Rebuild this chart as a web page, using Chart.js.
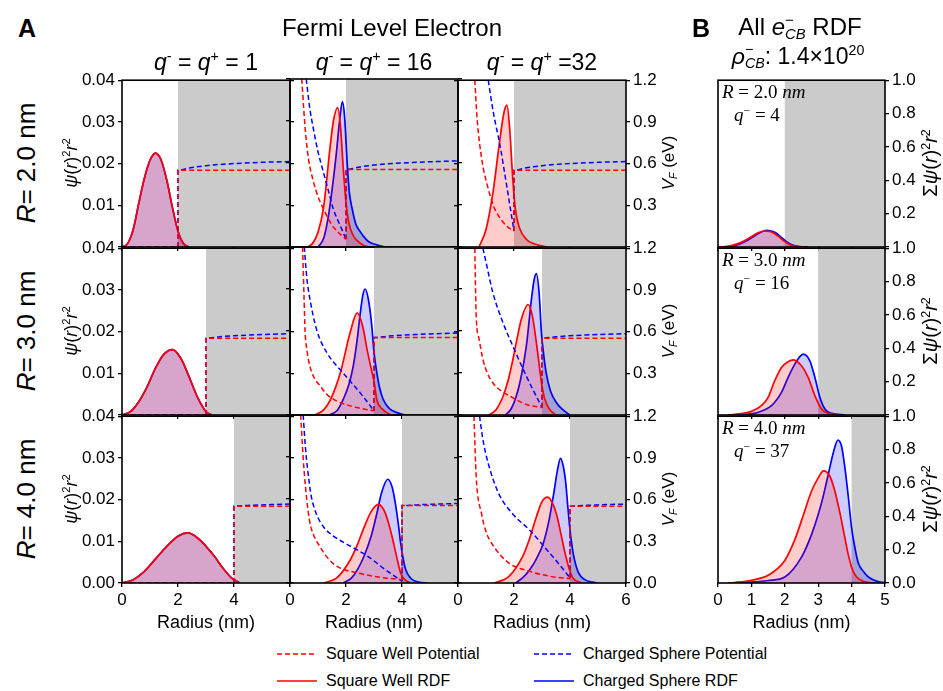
<!DOCTYPE html>
<html><head><meta charset="utf-8">
<script src="https://cdn.jsdelivr.net/npm/chart.js@4.4.1/dist/chart.umd.min.js"></script>
<style>
html,body{margin:0;padding:0;background:#fff;}
#fig{position:relative;width:943px;height:691px;overflow:hidden;background:#fff;font-family:'Liberation Sans',Arial,sans-serif;color:#000;}
#fig canvas{position:absolute;}
.t{position:absolute;white-space:nowrap;transform:translate(-50%,-50%);line-height:1;}
.tl{position:absolute;white-space:nowrap;transform:translateY(-50%);line-height:1;}
.rot{transform:translate(-50%,-50%) rotate(-90deg);}
sup,sub{font-size:0.62em;line-height:0;position:relative;vertical-align:baseline;}
sup{top:-0.6em;} sub{top:0.3em;}
.ss{display:inline-block;vertical-align:-0.3em;font-size:0.62em;line-height:0.95;text-align:left;}
.serif{font-family:'Liberation Serif','DejaVu Serif',serif;font-style:italic;}
</style></head>
<body><div id="fig"></div>
<script>
// ---------------- data: Panel A ----------------
const radiusR = [2, 3, 4];
const qTitles = ['1', '16', '32'];
// R = 2 nm
const R2_q1_rdf_r = [0,0.2,0.4,0.6,0.8,1.0,1.2,1.4,1.6,1.8,2.0,2.2,2.4];
const R2_q1_rdf   = [0,0.0008,0.0042,0.0105,0.0165,0.0208,0.0225,0.0208,0.016,0.0095,0.0038,0.0008,0];
const R2_q1_pot_r = [0,2];
const R2_q1_pot   = [0,0];
const R2_q16_swRdf_r = [0.6,0.8,1.0,1.2,1.44,1.55,1.7,1.8,1.9,2.0,2.1,2.25,2.4,2.6,2.8];
const R2_q16_swRdf   = [0,0.0008,0.0035,0.0095,0.0243,0.030,0.0332,0.029,0.019,0.0105,0.0058,0.0028,0.0015,0.0005,0];
const R2_q16_csRdf_r = [1.0,1.2,1.35,1.5,1.65,1.77,1.87,1.95,2.04,2.12,2.22,2.35,2.52,2.8,3.1,3.4];
const R2_q16_csRdf   = [0,0.002,0.0065,0.0135,0.022,0.030,0.0346,0.031,0.0203,0.013,0.0091,0.0055,0.0035,0.0013,0.0005,0];
const R2_q16_swPot_r = [0.42,0.54,0.66,0.84,1.0,1.2,1.4,1.56,1.8,2.0];
const R2_q16_swPot   = [1.2,0.85,0.63,0.465,0.36,0.27,0.19,0.14,0.09,0.055];
const R2_q16_csPot_r = [0.58,0.7,0.83,1.0,1.19,1.4,1.55,1.8,2.0];
const R2_q16_csPot   = [1.2,1.0,0.85,0.68,0.537,0.38,0.27,0.15,0.055];
const R2_q32_swRdf_r = [0.75,1.0,1.25,1.5,1.65,1.75,1.85,1.95,2.05,2.2,2.45,2.9,3.2];
const R2_q32_swRdf   = [0,0.0042,0.0131,0.026,0.0325,0.034,0.028,0.017,0.009,0.0045,0.0018,0.0004,0];
const R2_q32_swPot_r = [0.6,0.68,0.78,0.9,1.02,1.26,1.4,1.62,1.8,2.0];
const R2_q32_swPot   = [1.2,0.93,0.73,0.57,0.465,0.30,0.24,0.176,0.14,0.116];
const R2_q32_csPot_r = [1.08,1.26,1.5,1.74,1.9,2.0];
const R2_q32_csPot   = [1.2,0.97,0.73,0.44,0.24,0.116];
const R2_swOut_r = [2,6];
const R2_swOut   = [0.553,0.553];
const R2_csOut_r = [2,2.5,3,3.5,4,5,6];
const R2_csOut   = [0.553,0.572,0.585,0.594,0.600,0.609,0.615];
// R = 3 nm
const R3_q1_rdf_r = [0,0.3,0.6,0.9,1.2,1.5,1.8,2.1,2.4,2.7,3.0,3.2];
const R3_q1_rdf   = [0,0.0008,0.0032,0.0068,0.0113,0.0146,0.0157,0.0136,0.0091,0.0042,0.0008,0];
const R3_q1_pot_r = [0,3];
const R3_q1_pot   = [0,0];
const R3_q16_swRdf_r = [0.9,1.2,1.45,1.8,2.15,2.4,2.6,2.75,2.9,3.0,3.1,3.3,3.6];
const R3_q16_swRdf   = [0,0.0012,0.0037,0.0101,0.0197,0.0243,0.021,0.0157,0.011,0.008,0.0037,0.0014,0];
const R3_q16_csRdf_r = [1.4,1.7,1.9,2.1,2.26,2.4,2.5,2.6,2.68,2.8,2.92,3.0,3.1,3.2,3.33,3.55,3.85,4.1];
const R3_q16_csRdf   = [0,0.0012,0.0037,0.0072,0.0117,0.018,0.0237,0.0285,0.030,0.0275,0.0213,0.015,0.0101,0.0065,0.0037,0.0015,0.0005,0];
const R3_q16_swPot_r = [0.45,0.5,0.54,0.6,0.71,0.85,1.07,1.3,1.67,2.0,2.38,3.0];
const R3_q16_swPot   = [1.2,0.85,0.59,0.47,0.35,0.27,0.21,0.15,0.10,0.075,0.053,0.03];
const R3_q16_csPot_r = [0.51,0.6,0.71,0.95,1.31,1.9,2.5,3.0];
const R3_q16_csPot   = [1.2,0.98,0.83,0.61,0.447,0.30,0.16,0.03];
const R3_q32_swRdf_r = [1.1,1.35,1.61,1.8,1.96,2.1,2.26,2.5,2.65,2.8,2.9,3.0,3.1,3.27,3.5];
const R3_q32_swRdf   = [0,0.0012,0.0045,0.0085,0.0133,0.018,0.0229,0.0265,0.024,0.0173,0.012,0.0069,0.0038,0.0014,0];
const R3_q32_csRdf_r = [1.7,1.9,2.08,2.25,2.44,2.62,2.72,2.8,2.9,2.98,3.06,3.15,3.3,3.51,3.75,4.0];
const R3_q32_csRdf   = [0,0.0015,0.0045,0.009,0.0165,0.0276,0.0325,0.0339,0.029,0.0197,0.0145,0.0101,0.0058,0.003,0.0012,0];
const R3_q32_swPot_r = [0.6,0.65,0.75,0.89,1.05,1.25,1.5,1.85,2.44,3.0];
const R3_q32_swPot   = [1.2,0.71,0.55,0.40,0.30,0.23,0.18,0.136,0.076,0.053];
const R3_q32_csPot_r = [0.89,1.0,1.25,1.61,1.96,2.44,3.0];
const R3_q32_csPot   = [1.2,1.1,0.877,0.662,0.495,0.28,0.053];
const R3_swOut_r = [3,6];
const R3_swOut   = [0.553,0.553];
const R3_csOut_r = [3,3.5,4,4.5,5,6];
const R3_csOut   = [0.553,0.563,0.570,0.575,0.579,0.585];
// R = 4 nm
const R4_q1_rdf_r = [0,0.4,0.8,1.2,1.6,2.0,2.35,2.7,3.0,3.3,3.6,3.9,4.2];
const R4_q1_rdf   = [0,0.0008,0.0028,0.0058,0.0088,0.0112,0.012,0.0108,0.0088,0.0064,0.0036,0.0013,0];
const R4_q1_pot_r = [0,4];
const R4_q1_pot   = [0,0];
const R4_q16_swRdf_r = [1.2,1.67,2.16,2.4,2.66,2.9,3.15,3.4,3.64,3.8,3.95,4.1,4.3];
const R4_q16_swRdf   = [0,0.0012,0.0056,0.009,0.0135,0.017,0.0187,0.0167,0.0112,0.0065,0.0024,0.0008,0];
const R4_q16_csRdf_r = [1.9,2.2,2.41,2.65,2.9,3.1,3.27,3.49,3.65,3.76,3.87,3.95,4.05,4.13,4.3,4.6,4.9];
const R4_q16_csRdf   = [0,0.0012,0.0032,0.0065,0.0112,0.0165,0.0215,0.0247,0.0228,0.0191,0.014,0.0096,0.0055,0.0032,0.0012,0.0002,0];
const R4_q16_swPot_r = [0.38,0.5,0.69,0.85,1.06,1.3,1.67,2.41,3.4,4.0];
const R4_q16_swPot   = [1.2,0.81,0.454,0.34,0.263,0.19,0.12,0.072,0.036,0.024];
const R4_q16_csPot_r = [0.47,0.55,0.63,0.75,0.93,1.2,1.55,2.16,2.78,3.4,4.0];
const R4_q16_csPot   = [1.2,0.97,0.81,0.63,0.50,0.40,0.335,0.263,0.19,0.096,0.012];
const R4_q32_swRdf_r = [1.3,1.82,2.31,2.55,2.8,3.0,3.2,3.4,3.54,3.7,3.85,4.0,4.1,4.4];
const R4_q32_swRdf   = [0,0.0016,0.0064,0.0105,0.0159,0.0195,0.0206,0.0188,0.0159,0.011,0.0064,0.0028,0.0012,0];
const R4_q32_csRdf_r = [2.05,2.3,2.56,2.8,3.05,3.25,3.42,3.55,3.66,3.76,3.85,3.92,4.0,4.08,4.16,4.3,4.53,4.8,5.0];
const R4_q32_csRdf   = [0,0.0012,0.0032,0.0058,0.0096,0.015,0.0215,0.027,0.0299,0.028,0.0239,0.0185,0.0127,0.0085,0.0056,0.0025,0.0008,0.0002,0];
const R4_q32_swPot_r = [0.57,0.65,0.84,1.0,1.2,1.82,2.56,3.3,4.0];
const R4_q32_swPot   = [1.2,0.765,0.50,0.37,0.287,0.143,0.084,0.048,0.031];
const R4_q32_csPot_r = [0.77,0.9,1.08,1.45,1.94,2.56,3.17,3.67,4.0];
const R4_q32_csPot   = [1.2,1.02,0.86,0.645,0.50,0.38,0.24,0.12,0.036];
const R4_swOut_r = [4,6];
const R4_swOut   = [0.553,0.553];
const R4_csOut_r = [4,4.5,5,5.5,6];
const R4_csOut   = [0.553,0.558,0.562,0.565,0.568];

// ---------------- data: Panel B ----------------
const qB = ['4', '16', '37'];
const B_R2_sw_r = [0,0.3,0.6,0.9,1.2,1.4,1.6,1.8,2.0,2.2,2.4,2.6];
const B_R2_sw   = [0,0.004,0.02,0.05,0.085,0.096,0.09,0.065,0.032,0.01,0.002,0];
const B_R2_cs_r = [0,0.3,0.6,0.9,1.2,1.45,1.7,1.9,2.1,2.3,2.5,2.7];
const B_R2_cs   = [0,0.002,0.014,0.042,0.08,0.1,0.088,0.058,0.025,0.007,0.001,0];
const B_R3_sw_r = [0.3,0.5,1.0,1.3,1.5,1.7,1.9,2.1,2.26,2.5,2.7,2.9,3.1,3.3,3.6];
const B_R3_sw   = [0,0.004,0.022,0.056,0.106,0.206,0.285,0.32,0.331,0.295,0.226,0.116,0.036,0.01,0];
const B_R3_cs_r = [0.4,0.7,1.2,1.6,1.9,2.1,2.3,2.45,2.55,2.75,2.9,3.05,3.2,3.4,3.8];
const B_R3_cs   = [0,0.002,0.016,0.056,0.136,0.226,0.305,0.35,0.365,0.325,0.226,0.106,0.036,0.01,0];
const B_R4_sw_r = [0.3,0.5,1.0,1.5,2.0,2.3,2.5,2.8,3.0,3.16,3.35,3.5,3.65,3.8,3.9,4.0,4.1,4.2,4.4,4.7];
const B_R4_sw   = [0,0.003,0.016,0.046,0.135,0.26,0.374,0.55,0.63,0.672,0.64,0.55,0.42,0.27,0.17,0.095,0.05,0.026,0.007,0];
const B_R4_cs_r = [0.3,0.5,1.0,1.5,2.0,2.5,2.8,3.0,3.15,3.3,3.45,3.59,3.7,3.8,3.9,4.0,4.1,4.2,4.35,4.5,4.8,5.0];
const B_R4_cs   = [0,0.001,0.005,0.015,0.036,0.155,0.29,0.41,0.52,0.65,0.78,0.857,0.82,0.69,0.52,0.33,0.21,0.12,0.07,0.036,0.008,0.002];

// ---------------- assembly ----------------
const panelsA = [
  [
    {sw:[R2_q1_rdf_r,R2_q1_rdf], cs:[R2_q1_rdf_r,R2_q1_rdf], swP:[R2_q1_pot_r,R2_q1_pot], csP:[R2_q1_pot_r,R2_q1_pot]},
    {sw:[R2_q16_swRdf_r,R2_q16_swRdf], cs:[R2_q16_csRdf_r,R2_q16_csRdf], swP:[R2_q16_swPot_r,R2_q16_swPot], csP:[R2_q16_csPot_r,R2_q16_csPot]},
    {sw:[R2_q32_swRdf_r,R2_q32_swRdf], cs:null, swP:[R2_q32_swPot_r,R2_q32_swPot], csP:[R2_q32_csPot_r,R2_q32_csPot]}
  ],
  [
    {sw:[R3_q1_rdf_r,R3_q1_rdf], cs:[R3_q1_rdf_r,R3_q1_rdf], swP:[R3_q1_pot_r,R3_q1_pot], csP:[R3_q1_pot_r,R3_q1_pot]},
    {sw:[R3_q16_swRdf_r,R3_q16_swRdf], cs:[R3_q16_csRdf_r,R3_q16_csRdf], swP:[R3_q16_swPot_r,R3_q16_swPot], csP:[R3_q16_csPot_r,R3_q16_csPot]},
    {sw:[R3_q32_swRdf_r,R3_q32_swRdf], cs:[R3_q32_csRdf_r,R3_q32_csRdf], swP:[R3_q32_swPot_r,R3_q32_swPot], csP:[R3_q32_csPot_r,R3_q32_csPot]}
  ],
  [
    {sw:[R4_q1_rdf_r,R4_q1_rdf], cs:[R4_q1_rdf_r,R4_q1_rdf], swP:[R4_q1_pot_r,R4_q1_pot], csP:[R4_q1_pot_r,R4_q1_pot]},
    {sw:[R4_q16_swRdf_r,R4_q16_swRdf], cs:[R4_q16_csRdf_r,R4_q16_csRdf], swP:[R4_q16_swPot_r,R4_q16_swPot], csP:[R4_q16_csPot_r,R4_q16_csPot]},
    {sw:[R4_q32_swRdf_r,R4_q32_swRdf], cs:[R4_q32_csRdf_r,R4_q32_csRdf], swP:[R4_q32_swPot_r,R4_q32_swPot], csP:[R4_q32_csPot_r,R4_q32_csPot]}
  ]
];
const outsideA = [
  {sw:[R2_swOut_r,R2_swOut], cs:[R2_csOut_r,R2_csOut]},
  {sw:[R3_swOut_r,R3_swOut], cs:[R3_csOut_r,R3_csOut]},
  {sw:[R4_swOut_r,R4_swOut], cs:[R4_csOut_r,R4_csOut]}
];
const panelsB = [
  {sw:[B_R2_sw_r,B_R2_sw], cs:[B_R2_cs_r,B_R2_cs]},
  {sw:[B_R3_sw_r,B_R3_sw], cs:[B_R3_cs_r,B_R3_cs]},
  {sw:[B_R4_sw_r,B_R4_sw], cs:[B_R4_cs_r,B_R4_cs]}
];

// ---------------- layout ----------------
const colLeft = [122, 290, 458], colW = 168;
const rowTop = [79, 247, 415], rowH = 168;
const bLeft = 718, bW = 167;
const PADL = 45, PADR = 45, PADT = 12, PADB = 30;

const RED = '#ff0000', BLUE = '#0000ff';
const RED_F = 'rgba(255,0,0,0.2)', BLUE_F = 'rgba(0,0,255,0.2)';

Chart.defaults.font.family = "'Liberation Sans', Arial, sans-serif";
Chart.defaults.font.size = 17;
Chart.defaults.color = '#000';
Chart.defaults.animation = false;

const pts = (r, v) => r.map((x, i) => ({x: x, y: v[i]}));

const shadePlugin = {
  id: 'shade',
  beforeDatasetsDraw(chart, args, opts) {
    const a = chart.chartArea, x = chart.scales.x, ctx = chart.ctx;
    const px = x.getPixelForValue(opts.from);
    ctx.save();
    ctx.fillStyle = '#cbcbcb';
    ctx.fillRect(px, a.top, a.right - px, a.bottom - a.top);
    ctx.restore();
  }
};
const framePlugin = {
  id: 'frame',
  afterDatasetsDraw(chart) {
    const a = chart.chartArea, ctx = chart.ctx;
    ctx.save();
    ctx.strokeStyle = '#000';
    ctx.lineWidth = 1.6;
    ctx.strokeRect(a.left, a.top, a.right - a.left, a.bottom - a.top);
    ctx.restore();
  }
};

function gridOpts() {
  return {drawOnChartArea: false, drawTicks: true, tickLength: 4, color: '#000', lineWidth: 1.3};
}
function yAxis(pos, max, step, showLabels, hideZero, digits, width, display) {
  return {
    type: 'linear', position: pos, min: 0, max: max, display: display !== false,
    ticks: {stepSize: step, display: showLabels, padding: 3, autoSkip: false,
      callback: v => (hideZero && Math.abs(v) < 1e-9) ? '' : Number(v).toFixed(digits)},
    grid: gridOpts(), border: {display: false},
    afterFit: s => { s.width = width; }
  };
}
function xAxis(max, step, showLabels, hideLast) {
  return {
    type: 'linear', position: 'bottom', min: 0, max: max,
    ticks: {stepSize: step, display: showLabels, maxRotation: 0, autoSkip: false, padding: 3,
      callback: v => (hideLast && Math.abs(v - max) < 1e-9) ? '' : String(v)},
    grid: gridOpts(), border: {display: false},
    afterFit: s => { s.height = PADB; }
  };
}
function rdfDs(pair, color, fillColor, order) {
  return {data: pts(pair[0], pair[1]), yAxisID: 'y', borderColor: color, backgroundColor: fillColor,
    fill: 'origin', borderWidth: 1.7, pointRadius: 0, cubicInterpolationMode: 'monotone', order: order};
}
function potDs(data, color, order) {
  return {data: data, yAxisID: 'y2', borderColor: color, backgroundColor: color, borderWidth: 1.5,
    borderDash: [5, 3], fill: false, pointRadius: 0, cubicInterpolationMode: 'monotone', order: order};
}
function makeCanvas(left, top, w, h) {
  const c = document.createElement('canvas');
  c.width = w; c.height = h;
  c.style.left = left + 'px'; c.style.top = top + 'px';
  c.style.width = w + 'px'; c.style.height = h + 'px';
  document.getElementById('fig').appendChild(c);
  return c;
}

// Panel A charts
for (let r = 0; r < 3; r++) {
  for (let c = 0; c < 3; c++) {
    const p = panelsA[r][c], out = outsideA[r], R = radiusR[r];
    const w = colW + PADL + PADR, h = rowH + PADT + PADB;
    const cv = makeCanvas(colLeft[c] - PADL, rowTop[r] - PADT, w, h);
    const ds = [];
    const swIn = pts(p.swP[0], p.swP[1]);
    const csIn = pts(p.csP[0], p.csP[1]);
    ds.push(potDs(swIn, RED, 0));
    ds.push(potDs([swIn[swIn.length - 1]].concat(pts(out.sw[0], out.sw[1])), RED, 0));
    ds.push(potDs(csIn, BLUE, 1));
    ds.push(potDs([csIn[csIn.length - 1]].concat(pts(out.cs[0], out.cs[1])), BLUE, 1));
    ds.push(rdfDs(p.sw, RED, RED_F, 2));
    if (p.cs) ds.push(rdfDs(p.cs, BLUE, BLUE_F, 3));
    new Chart(cv, {
      type: 'line',
      data: {datasets: ds},
      plugins: [shadePlugin, framePlugin],
      options: {
        responsive: false, animation: false, events: [],
        layout: {padding: {top: PADT, left: 0, right: 0, bottom: 0}},
        plugins: {legend: {display: false}, tooltip: {enabled: false}, shade: {from: R}},
        scales: {
          x: xAxis(6, 2, r === 2, c < 2),
          y: yAxis('left', 0.04, 0.01, c === 0, r < 2, 2, PADL),
          y2: yAxis('right', 1.2, 0.3, c === 2, r < 2, 1, PADR)
        }
      }
    });
  }
}

// Panel B charts
for (let r = 0; r < 3; r++) {
  const p = panelsB[r], R = radiusR[r];
  const padL = 10;
  const w = bW + padL + PADR, h = rowH + PADT + PADB;
  const cv = makeCanvas(bLeft - padL, rowTop[r] - PADT, w, h);
  new Chart(cv, {
    type: 'line',
    data: {datasets: [rdfDs(p.sw, RED, RED_F, 0), rdfDs(p.cs, BLUE, BLUE_F, 1)]},
    plugins: [shadePlugin, framePlugin],
    options: {
      responsive: false, animation: false, events: [],
      layout: {padding: {top: PADT, left: padL, right: 0, bottom: 0}},
      plugins: {legend: {display: false}, tooltip: {enabled: false}, shade: {from: R}},
      scales: {
        x: xAxis(5, 1, r === 2, false),
        y: yAxis('right', 1.0, 0.2, true, r < 2, 1, PADR)
      }
    }
  });
}

// ---------------- text ----------------
function addText(html, x, y, cls, style) {
  const d = document.createElement('div');
  d.className = cls;
  d.style.left = x + 'px'; d.style.top = y + 'px';
  if (style) d.style.cssText += style;
  d.innerHTML = html;
  document.getElementById('fig').appendChild(d);
  return d;
}
addText('<b>A</b>', 27, 28, 't', 'font-size:25px');
addText('Fermi Level Electron', 392, 28, 't', 'font-size:24px');
for (let c = 0; c < 3; c++) {
  const cx = colLeft[c] + colW / 2;
  const eq = c === 2 ? ' =' : ' = ';
  addText('<i>q</i><sup>-</sup> = <i>q</i><sup>+</sup>' + eq + qTitles[c], cx, 62, 't', 'font-size:23px');
  addText('Radius (nm)', cx, 622, 't', 'font-size:18px');
}
addText('Radius (nm)', bLeft + bW / 2, 622, 't', 'font-size:18px');
for (let r = 0; r < 3; r++) {
  const cy = rowTop[r] + rowH / 2;
  addText('<i>R</i>= ' + radiusR[r].toFixed(1) + ' nm', 26, cy, 't rot', 'font-size:26px');
  addText('<i>ψ</i>(<i>r</i>)<sup>2</sup><i>r</i><sup>2</sup>', 71, cy, 't rot', 'font-size:18px');
  addText('<i>V<sub>F</sub></i> (eV)', 668, cy, 't rot', 'font-size:17px');
  addText('Σ<i>ψ</i>(<i>r</i>)<sup>2</sup><i>r</i><sup>2</sup>', 930, cy, 't rot', 'font-size:20px');
  addText('<span class="serif">R</span> = ' + radiusR[r].toFixed(1) + ' <span class="serif">nm</span>', 722, rowTop[r] + 12, 'tl', "font-family:'Liberation Serif',serif;font-size:19px");
  addText('<span class="serif">q</span><sup>−</sup> = ' + qB[r], 734, rowTop[r] + 35, 'tl', "font-family:'Liberation Serif',serif;font-size:19px");
}
addText('<b>B</b>', 701, 28, 't', 'font-size:25px');
addText('All <i>e</i><span class="ss">−<br><i>CB</i></span> RDF', 800, 27, 't', 'font-size:24px');
addText('<i>ρ</i><span class="ss">−<br><i>CB</i></span>: 1.4×10<sup>20</sup>', 798, 57, 't', 'font-size:23px');

// legend
const legendItems = [
  {label: 'Square Well Potential', color: RED, dash: true, x: 277, y: 654},
  {label: 'Charged Sphere Potential', color: BLUE, dash: true, x: 534, y: 654},
  {label: 'Square Well RDF', color: RED, dash: false, x: 277, y: 681},
  {label: 'Charged Sphere RDF', color: BLUE, dash: false, x: 534, y: 681}
];
legendItems.forEach(it => {
  const svg = '<svg width="40" height="4" style="display:block"><line x1="0" y1="2" x2="40" y2="2" stroke="' + it.color +
    '" stroke-width="1.6"' + (it.dash ? ' stroke-dasharray="5,3"' : '') + '/></svg>';
  addText(svg, it.x, it.y, 'tl', '');
  addText(it.label, it.x + 49, it.y, 'tl', 'font-size:16px');
});
</script></body></html>
